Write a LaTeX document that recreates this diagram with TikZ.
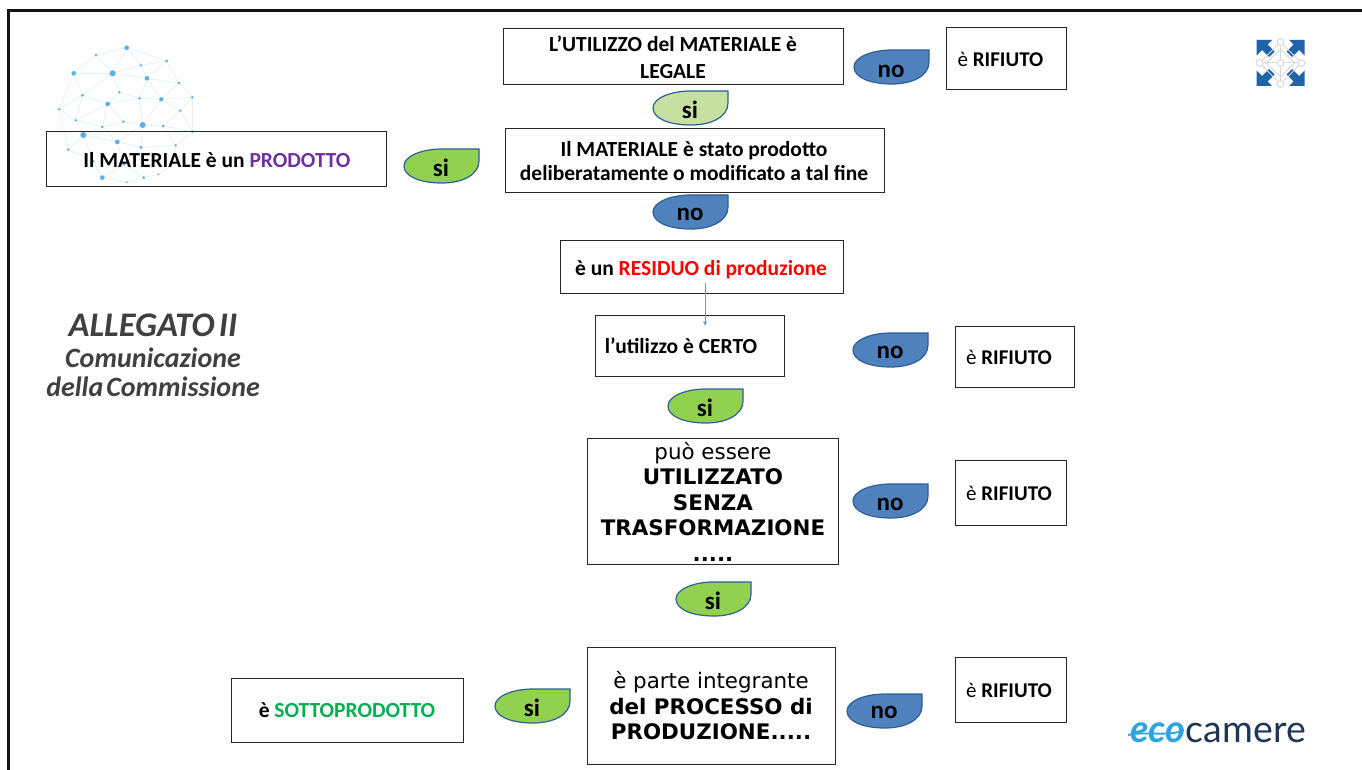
\documentclass[tikz,border=0pt]{standalone}
\usepackage{fontspec}
\usetikzlibrary{arrows.meta}
\setmainfont{Carlito}
\newfontfamily\dvfont{DejaVu Sans}
\newfontfamily\latofont{Lato}
\definecolor{framek}{HTML}{111111}
\definecolor{boxk}{HTML}{262626}
\definecolor{noblue}{HTML}{4F81BD}
\definecolor{edgeblue}{HTML}{2F5F97}
\definecolor{sigreen}{HTML}{92D050}
\definecolor{silight}{HTML}{C5E0A0}
\definecolor{purp}{HTML}{7030A0}
\definecolor{residred}{HTML}{FF0000}
\definecolor{sottog}{HTML}{00B050}
\definecolor{titleg}{HTML}{404040}
\definecolor{globedot}{HTML}{5AB0E8}
\definecolor{globeline}{HTML}{E4F0F8}
\definecolor{logoblue}{HTML}{1F63A8}
\definecolor{logogrey}{HTML}{D8D8D8}
\definecolor{ecoblue}{HTML}{2FA4E0}
\definecolor{econavy}{HTML}{1D3557}
\definecolor{arrowblue}{HTML}{6F97C6}
\tikzset{
  boxnode/.style={draw=boxk,line width=1pt,inner sep=0pt,fill=none},
  labeltext/.style={inner sep=0pt,align=center,text=black,font=\fontsize{21.5}{26}\selectfont\bfseries},
  rifiutotext/.style={inner sep=0pt,text=black,font=\fontsize{21}{24}\selectfont},
  dejatext/.style={inner sep=0pt,align=center,text=black,font=\fontsize{21.4}{25.5}\selectfont\dvfont},
  tagtext/.style={inner sep=0pt,text=black,font=\fontsize{25}{28}\selectfont\bfseries},
  titletext/.style={inner sep=0pt,align=center,text=titleg,font=\bfseries\itshape},
}
% \boxat{name}{x1}{y1}{x2}{y2}
\newcommand{\boxat}[5]{\node[boxnode,minimum width=#4pt-#2pt-1pt,minimum height=#5pt-#3pt-1pt] (#1) at ({(#2+#4)/2},{(#3+#5)/2}) {};}
% \tagat[text dy]{name}{x-left}{y-top}{fill}{text}
\newcommand{\tagat}[6][18.5]{%
  \draw[draw=edgeblue,line width=1.2pt,fill=#5,shift={(#3,#4)}]
    (75,0) -- (75,12) .. controls (75,26) and (58,34) .. (38,34)
    .. controls (15,34) and (0,27) .. (0,17)
    .. controls (0,7) and (18,0) .. (38,0) -- cycle;
  \node[tagtext] (#2) at ({#3+37},{#4+#1}) {#6};}
\begin{document}
\begin{tikzpicture}[x=1pt,y=-1pt]
\useasboundingbox (0,0) rectangle (1362,770);
\fill[white] (0,0) rectangle (1362,770);
\draw[framek,line width=3pt] (8.5,770) -- (8.5,10.5) -- (1362,10.5);

% globe
\begin{scope}[x=0.3333pt,y=-0.3333pt]
\foreach \a/\b/\c/\d in {380/143/288/165,380/143/500/183,380/143/338/220,380/143/423/196,288/165/221/220,288/165/338/220,500/183/423/196,500/183/537/249,500/183/441/235,423/196/338/220,423/196/441/235,221/220/338/220,221/220/247/286,221/220/177/328,338/220/441/235,338/220/358/277,338/220/247/286,441/235/537/249,441/235/419/295,441/235/484/298,537/249/577/292,537/249/484/298,358/277/419/295,358/277/323/312,247/286/323/312,247/286/177/328,247/286/227/361,577/292/541/332,577/292/484/298,577/292/577/395,419/295/484/298,419/295/323/312,419/295/428/375,484/298/541/332,484/298/428/375,323/312/227/361,323/312/307/381,323/312/370/365,177/328/227/361,177/328/205/449,541/332/490/378,541/332/577/395,227/361/307/381,227/361/250/405,370/365/428/375,370/365/307/381,428/375/490/378,428/375/423/442,428/375/352/426,490/378/577/395,490/378/527/436,307/381/250/405,307/381/352/426,577/395/527/436,250/405/352/426,250/405/205/449,250/405/280/484,352/426/423/442,352/426/372/493,423/442/527/436,423/442/372/493,527/436/522/490,205/449/280/484,280/484/307/533,372/493/307/533,372/493/431/533,431/533/475/523,431/533/380/547,307/533/380/547,475/523/522/490,280/484/372/493}
  {\draw[globeline,line width=0.7pt] (\a,\b) -- (\c,\d);}
\foreach \a/\b/\r in {380/143/7,288/165/4,500/183/4.5,423/196/4,221/220/7,338/220/9,441/235/7,537/249/4.5,358/277/4,247/286/4.5,577/292/4,419/295/4,484/298/6.5,323/312/7,177/328/4,541/332/4,227/361/4,370/365/4,428/375/9,490/378/4,307/381/4,577/395/4,250/405/9,352/426/7,423/442/5,527/436/4,205/449/4,280/484/4,372/493/4.5,307/533/7,431/533/4.5,475/523/3,380/547/3,522/490/3.5}
  {\fill[globedot] (\a,\b) circle[radius=\r*1pt/3];}
\end{scope}

% title
\node[titletext,font=\fontsize{34.5}{36}\selectfont\bfseries\itshape] (tit1) at (153,325) {ALLEGATO\hspace{-0.1em} II};
\node[titletext,font=\fontsize{28}{29}\selectfont\bfseries\itshape] (tit2) at (153,372) {Comunicazione\\della\hspace{-0.12em} Commissione};

% boxes
\boxat{legale}{503}{28}{844}{85}
\node[labeltext,font=\fontsize{21.5}{27}\selectfont\bfseries] (legalet) at (673,57) {L’UTILIZZO del MATERIALE è\\LEGALE};
\boxat{rif1}{946}{27}{1067}{90}
\node[rifiutotext] (rif1t) at (1000.5,59) {è \textbf{RIFIUTO}};
\boxat{delib}{505}{128}{885}{193}
\node[labeltext,font=\fontsize{21.5}{24}\selectfont\bfseries] (delibt) at (694,161) {Il MATERIALE è stato prodotto\\deliberatamente o modificato a tal fine};
\boxat{prod}{46}{131}{387}{187}
\node[labeltext] (prodt) at (217,160) {Il MATERIALE è un \textcolor{purp}{PRODOTTO}};
\boxat{resid}{560}{240}{844}{294}
\node[labeltext] (residt) at (701,269.5) {è un \textcolor{residred}{RESIDUO di produzione}};
\boxat{certo}{595}{315}{785}{377}
\node[labeltext] (certot) at (681,346) {l’utilizzo è CERTO};
\boxat{rif2}{955}{326}{1075}{388}
\node[rifiutotext] (rif2t) at (1009,357.5) {è \textbf{RIFIUTO}};
\boxat{senza}{587}{438}{839}{565}
\node[dejatext] (senzat) at (713,501.5) {può essere\\\textbf{UTILIZZATO}\\\textbf{SENZA}\\\textbf{TRASFORMAZIONE}\\\textbf{.....}};
\boxat{rif3}{955}{460}{1067}{526}
\node[rifiutotext] (rif3t) at (1009,493) {è \textbf{RIFIUTO}};
\boxat{integ}{587}{647}{836}{765}
\node[dejatext] (integt) at (711,706) {è parte integrante\\\textbf{del PROCESSO di}\\\textbf{PRODUZIONE.....}};
\boxat{rif4}{955}{657}{1067}{723}
\node[rifiutotext] (rif4t) at (1009,690) {è \textbf{RIFIUTO}};
\boxat{sotto}{231}{678}{464}{743}
\node[labeltext] (sottot) at (347,710) {è \textcolor{sottog}{SOTTOPRODOTTO}};

% tags
\tagat[21]{no1}{854}{50}{noblue}{no}
\tagat{si1}{653}{91}{silight}{si}
\tagat{si2}{404}{149}{sigreen}{si}
\tagat[19.5]{no2}{653}{195}{noblue}{no}
\tagat[19]{no3}{853}{333}{noblue}{no}
\tagat{si3}{668}{389}{sigreen}{si}
\tagat[20]{no4}{853}{484}{noblue}{no}
\tagat{si4}{676}{582}{sigreen}{si}
\tagat{si5}{495}{689}{sigreen}{si}
\tagat{no5}{847}{694}{noblue}{no}

% connector
\coordinate (certotip) at (705,326);
\draw[arrowblue,line width=0.8pt,-{Latex[length=4.5pt,width=4.5pt]}] (705,283) -- (certotip);

% top-right logo
\begin{scope}[shift={(1280.5,63)}]
  \foreach \sx/\sy in {1/1,-1/1,1/-1,-1/-1}
    {\fill[logoblue,xscale=\sx,yscale=\sy] (24,-23) -- (8.5,-23) -- (13,-18.5) -- (6,-11.5) -- (11.5,-6) -- (18.5,-13) -- (24,-7.5) -- cycle;}
  \draw[logogrey,line width=1pt] (0,-21) -- (21,0) -- (0,21) -- (-21,0) -- cycle;
  \draw[logogrey,line width=1pt] (0,-14) -- (14,0) -- (0,14) -- (-14,0) -- cycle;
  \draw[logogrey,line width=1pt] (0,-19) -- (0,19) (-19,0) -- (19,0);
  \foreach \p/\q in {0/-21,21/0,0/21,-21/0,0/0}
    {\draw[logogrey,line width=1pt,fill=white] (\p,\q) circle[radius=3.4];}
\end{scope}

% bottom-right logo
\draw[ecoblue,line width=1.8pt] (1128,735) .. controls (1145,731) and (1170,737) .. (1184,730);
\node[inner sep=0pt,anchor=west,text=ecoblue,font=\fontsize{38}{40}\selectfont\bfseries\itshape\latofont] (ecot) at (1130,733) {eco};
\node[inner sep=0pt,anchor=east,text=econavy,font=\fontsize{37.5}{40}\selectfont\latofont] (camt) at (1306,733) {camere};
\end{tikzpicture}
\end{document}
